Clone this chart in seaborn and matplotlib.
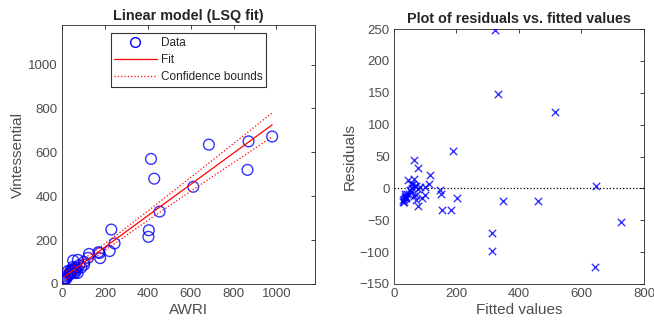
import numpy as np
import matplotlib
matplotlib.use("Agg")
import matplotlib.pyplot as plt
import seaborn as sns
from matplotlib.lines import Line2D

awri = [980, 870, 865, 685, 612, 415, 430, 455, 405, 403, 230, 245, 222, 178,
        175, 170, 126, 121, 103, 103, 74, 73, 70, 61, 61, 52, 52, 53, 42, 39,
        31, 29, 35, 45, 48, 57, 65, 80, 90, 5, 6, 8, 10, 12, 14, 16, 18, 20, 25]
vint = [672, 650, 520, 635, 443, 570, 480, 330, 245, 215, 248, 185, 150, 118,
        141, 145, 137, 119, 101, 88, 110, 50, 74, 73, 50, 107, 78, 52, 50, 60,
        39, 60, 48, 58, 66, 70, 62, 85, 75, 8, 12, 10, 16, 22, 20, 28, 25, 25, 35]

x = np.array(awri, dtype=float)
y = np.array(vint, dtype=float)

# least squares fit + 95% confidence bounds of the fitted line
slope, icpt = np.polyfit(x, y, 1)
fitted = icpt + slope * x
resid = y - fitted
n = len(x)
s = np.sqrt(np.sum(resid ** 2) / (n - 2))
sxx = np.sum((x - x.mean()) ** 2)
xs = np.sort(x)
yfit = icpt + slope * xs
half = 2.01 * s * np.sqrt(1 / n + (xs - x.mean()) ** 2 / sxx)

sns.set_style("white")
plt.rcParams["font.family"] = ["Liberation Sans", "DejaVu Sans"]
grey = "#262626"
blue = "#0000ff"

fig = plt.figure(figsize=(6.54, 3.29), dpi=100)
ax1 = fig.add_axes([0.0948, 0.1368, 0.3869, 0.787])
ax2 = fig.add_axes([0.6024, 0.1368, 0.3823, 0.775])

# left: data + fit
sns.scatterplot(x=x, y=y, ax=ax1, marker="o", s=60, facecolors="none",
                edgecolor=blue, linewidth=1.0, alpha=0.8, zorder=3)
sns.lineplot(x=xs, y=yfit, ax=ax1, color="red", linewidth=0.9, zorder=4)
ax1.plot(xs, yfit + half, color="red", linestyle=":", linewidth=0.9, zorder=4)
ax1.plot(xs, yfit - half, color="red", linestyle=":", linewidth=0.9, zorder=4)
ax1.set_xlim(0, 1180)
ax1.set_ylim(0, 1180)
ax1.set_xticks([0, 200, 400, 600, 800, 1000])
ax1.set_yticks([0, 200, 400, 600, 800, 1000])
ax1.set_xlabel("AWRI", fontsize=11, color="#4d4d4d", labelpad=2)
ax1.set_ylabel("Vintessential", fontsize=11, color="#4d4d4d", labelpad=2)
ax1.set_title("Linear model (LSQ fit)", fontsize=10.4, fontweight="bold", pad=4)

handles = [
    Line2D([], [], marker="o", linestyle="none", markerfacecolor="none",
           markeredgecolor=blue, markersize=7),
    Line2D([], [], color="red", linewidth=0.9),
    Line2D([], [], color="red", linestyle=":", linewidth=0.9),
]
leg = ax1.legend(handles, ["Data", "Fit", "Confidence bounds"], loc="upper center",
                 fontsize=8.5, frameon=True, fancybox=False, handlelength=3.6,
                 borderpad=0.3, labelspacing=0.45, handletextpad=0.4,
                 borderaxespad=0, bbox_to_anchor=(0.5, 0.969))
leg.get_frame().set_edgecolor("black")
leg.get_frame().set_linewidth(0.8)

# right: residuals vs fitted
sns.scatterplot(x=fitted, y=resid, ax=ax2, marker="x", s=28, color=blue,
                linewidth=1.0, alpha=0.8, zorder=3)
ax2.plot([0, 800], [0, 0], color="black", linestyle=":", linewidth=0.9)
ax2.set_xlim(0, 800)
ax2.set_ylim(-150, 250)
ax2.set_xticks([0, 200, 400, 600, 800])
ax2.set_yticks([-150, -100, -50, 0, 50, 100, 150, 200, 250])
ax2.set_xlabel("Fitted values", fontsize=11, color="#4d4d4d", labelpad=2)
ax2.set_ylabel("Residuals", fontsize=11, color="#4d4d4d", labelpad=2)
ax2.set_title("Plot of residuals vs. fitted values", fontsize=10.4,
              fontweight="bold", pad=4)

for ax in (ax1, ax2):
    for sp in ax.spines.values():
        sp.set_color(grey)
        sp.set_linewidth(0.6)
    ax.tick_params(direction="in", length=3, width=0.6, color=grey,
                   labelsize=9.5, labelcolor="#4d4d4d", top=True, right=True,
                   pad=3)

fig.savefig("out.png", dpi=100)
